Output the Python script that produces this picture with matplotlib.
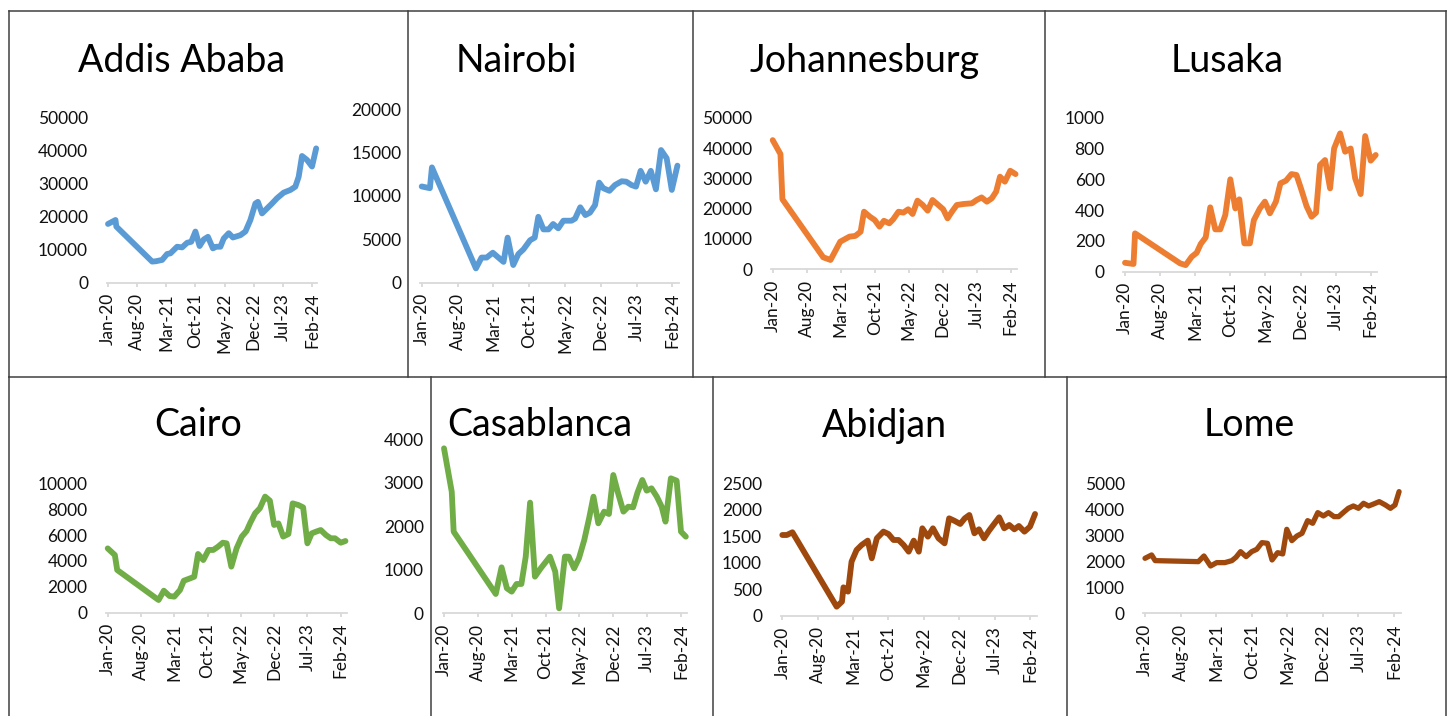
import numpy as np
import matplotlib
matplotlib.use("Agg")
import matplotlib.pyplot as plt
from matplotlib.lines import Line2D

plt.rcParams['font.family'] = ['Lato', 'DejaVu Sans']

# x axis: months since Jan-20
tick_pos = [0, 7, 14, 21, 28, 35, 42, 49]
tick_labels = ['Jan-20', 'Aug-20', 'Mar-21', 'Oct-21', 'May-22', 'Dec-22', 'Jul-23', 'Feb-24']

addis_t = [0, 1.8, 2, 10.6, 11.5, 13, 14.2, 15, 16.6, 17.8, 19, 20, 21, 22, 23, 24, 25.2, 26, 27, 27.8,
           29, 30, 31.8, 33, 34.2, 35.4, 36, 37, 38.2, 39.4, 40.6, 42.2, 43.8, 45, 45.8, 46.6, 47.8, 49, 50]
addis_v = [17800, 19000, 17000, 6400, 6500, 6900, 8700, 8900, 10900, 10700, 12100, 12400, 15500, 11100,
           13100, 13900, 10400, 10900, 10900, 13400, 15000, 13700, 14400, 15500, 19000, 24000, 24500, 21000,
           22500, 24000, 25600, 27300, 28100, 29100, 32100, 38400, 37200, 35200, 40700]

nairobi_t = [0, 1.6, 2, 10.6, 11.7, 12.7, 13.9, 15, 16, 16.8, 17.9, 18.9, 19.9, 21.2, 22.1, 22.8, 23.8, 24.8,
             25.7, 26.7, 27.7, 29.3, 30, 31, 32, 32.9, 33.9, 34.7, 35.5, 36.7, 37.8, 39.1, 40, 41, 41.9, 42.8,
             43.8, 44.8, 45.8, 46.8, 47.9, 48.9, 50]
nairobi_v = [11100, 10900, 13300, 1650, 2900, 2900, 3460, 2900, 2400, 5200, 2040, 3300, 3850, 4900, 5200, 7600,
             6150, 6150, 6770, 6270, 7150, 7150, 7400, 8700, 7800, 8080, 8960, 11540, 10900, 10600, 11270,
             11700, 11650, 11270, 11080, 12900, 11650, 12900, 10770, 15300, 14350, 10700, 13500]

joburg_t = [0, 1.6, 2, 10.4, 11.9, 13.9, 15.8, 17, 18.1, 18.8, 20, 21, 22, 22.9, 24, 24.8, 25.9, 26.9, 27.9,
            28.8, 29.8, 30.9, 31.9, 32.9, 34.1, 35.1, 36, 36.9, 37.9, 39.3, 41, 42, 43, 44.1, 45.1, 46, 46.8,
            47.8, 48.9, 50]
joburg_v = [42600, 38000, 23100, 3960, 3080, 9100, 10770, 11000, 12400, 19000, 17360, 16260, 14070, 16000,
            15160, 16480, 19000, 18700, 19800, 18240, 22640, 21200, 19340, 22850, 21200, 19800, 16800, 19000,
            21200, 21540, 21760, 22860, 23700, 22300, 23400, 25600, 30550, 28900, 32500, 31400]

lusaka_t = [0, 1.7, 2, 11, 12.1, 13.3, 14.3, 15.1, 16.1, 17, 18, 19, 20, 21, 22, 22.8, 23.8, 24.9, 25.7, 26.9,
            27.9, 28.9, 30.1, 31, 32.1, 33.2, 34.2, 35.2, 36.2, 37.2, 38.1, 38.9, 39.9, 40.9, 41.7, 42.9, 43.9,
            45, 45.9, 47, 47.9, 49, 50]
lusaka_v = [58, 50, 249, 54, 43, 97, 123, 180, 223, 418, 275, 275, 368, 600, 411, 470, 184, 184, 335, 411, 455,
            379, 455, 574, 591, 634, 628, 530, 426, 357, 383, 693, 725, 541, 800, 898, 779, 800, 606, 504, 881,
            721, 758]

cairo_t = [0, 1.5, 2, 10.7, 11.8, 13, 14, 15.2, 16, 17.3, 18.2, 19, 20.1, 21.2, 22.2, 23.2, 24.2, 25, 26, 27.1,
           28.2, 29.2, 30, 31, 32, 33.1, 34.1, 35, 35.9, 36.9, 38, 38.9, 40.1, 41.1, 42, 42.9, 43.8, 44.8, 45.9,
           46.9, 47.8, 49, 50]
cairo_v = [4970, 4460, 3300, 980, 1700, 1290, 1240, 1750, 2470, 2650, 2780, 4540, 4070, 4850, 4850, 5100, 5410,
           5360, 3560, 4970, 5880, 6310, 6960, 7680, 8070, 8970, 8660, 6780, 6900, 5880, 6080, 8450, 8320, 8140,
           5360, 6130, 6260, 6390, 6000, 5750, 5750, 5410, 5540]

casa_t = [0, 1.6, 2, 10.7, 11.9, 13, 14, 15, 16, 16.9, 17.8, 18.8, 20, 21.9, 23, 23.8, 25, 25.8, 26.9, 27.9,
          29, 30, 30.9, 31.9, 33.1, 34.1, 35, 36, 37.1, 38.1, 39.1, 40, 41, 41.9, 42.9, 44, 45, 45.8, 46.9,
          48.1, 49, 50]
casa_v = [3786, 2790, 1874, 444, 1055, 574, 497, 673, 673, 1300, 2540, 841, 1032, 1300, 956, 115, 1300, 1300,
          1032, 1262, 1682, 2180, 2677, 2065, 2333, 2279, 3174, 2753, 2333, 2447, 2432, 2769, 3059, 2815,
          2868, 2677, 2447, 2103, 3097, 3044, 1874, 1759]

abidjan_t = [0, 0.9, 2, 10.75, 11.8, 12.1, 13, 13.7, 14.7, 15.7, 16.9, 17.7, 18.7, 20, 21, 22, 23, 24, 25, 26,
             27, 27.7, 28.8, 29.8, 30.9, 32.1, 33, 34, 35.2, 36.1, 37, 38, 38.9, 39.9, 40.9, 41.9, 42.9, 43.9,
             44.9, 45.9, 46.8, 47.9, 49, 50]
abidjan_v = [1526, 1526, 1577, 176, 270, 540, 459, 1024, 1244, 1338, 1420, 1087, 1464, 1590, 1545, 1432, 1432,
             1338, 1212, 1420, 1212, 1652, 1495, 1652, 1464, 1369, 1840, 1796, 1734, 1840, 1903, 1558, 1633,
             1464, 1608, 1734, 1859, 1652, 1715, 1633, 1696, 1589, 1683, 1922]

lome_t = [0, 1.3, 2, 10.5, 11.6, 12.9, 14.1, 15.7, 17.1, 17.9, 18.8, 19.9, 21, 22, 23, 24.1, 25, 26.1, 27.1,
          27.9, 28.9, 29.9, 30.9, 32, 33, 34, 35.1, 36.1, 37.2, 38.1, 39, 40, 41, 42, 43, 44, 45, 46.1, 47.3,
          48.3, 49.2, 50]
lome_v = [2115, 2244, 2026, 1987, 2205, 1820, 1949, 1949, 2026, 2154, 2372, 2180, 2372, 2462, 2718, 2692, 2051,
          2333, 2282, 3230, 2795, 2974, 3077, 3564, 3462, 3872, 3744, 3872, 3718, 3718, 3872, 4038, 4128, 4038,
          4231, 4128, 4205, 4295, 4167, 4038, 4167, 4680]

BLUE, ORANGE, GREEN, BROWN = '#5B9BD5', '#ED7D31', '#70AD47', '#9E480E'

W, H = 1449, 716
fig = plt.figure(figsize=(W / 100, H / 100), dpi=100)
fig.patch.set_facecolor('white')


def panel(name, t, v, color, x0, x49, y0, ytop, ymax, ystep, tx, ty, lw=4.2):
    # x0/x49: pixel of Jan-20 / Feb-24, y0/ytop: pixel of 0 / ymax
    ppm = (x49 - x0) / 49
    left = x0 - 0.3 * ppm
    right = x0 + 50.3 * ppm
    ax = fig.add_axes([left / W, 1 - y0 / H, (right - left) / W, (y0 - ytop) / H])
    ax.set_facecolor('none')
    ax.plot(t, v, color=color, lw=lw, solid_joinstyle='round', solid_capstyle='round', clip_on=False)
    ax.set_xlim(-0.3, 50.3)
    ax.set_ylim(0, ymax)
    ax.set_xticks(tick_pos)
    ax.set_xticklabels(tick_labels, rotation=90, fontsize=12.5, color='#111111')
    ax.set_yticks(np.arange(0, ymax + 1, ystep))
    ax.tick_params(axis='y', length=0, pad=13.5, labelsize=12.5, labelcolor='#111111')
    ax.tick_params(axis='x', length=3, width=1.3, color='#D9D9D9', pad=4.5)
    for s in ['top', 'right', 'left']:
        ax.spines[s].set_visible(False)
    ax.spines['bottom'].set_color('#D9D9D9')
    ax.spines['bottom'].set_linewidth(1.3)
    fig.text(tx / W, 1 - ty / H, name, ha='center', va='baseline', fontsize=27, color='black')
    return ax


panel('Addis Ababa', addis_t, addis_v, BLUE, 108, 312, 282.7, 117.7, 50000, 10000, 182, 72)
panel('Nairobi', nairobi_t, nairobi_v, BLUE, 421.7, 672.3, 282.7, 109.3, 20000, 5000, 516, 72)
panel('Johannesburg', joburg_t, joburg_v, ORANGE, 772.7, 1010.7, 269.3, 117.7, 50000, 10000, 865, 72)
panel('Lusaka', lusaka_t, lusaka_v, ORANGE, 1125, 1370.7, 271.7, 117.7, 1000, 200, 1227, 72)
panel('Cairo', cairo_t, cairo_v, GREEN, 107.7, 340.7, 612.7, 483.3, 10000, 2000, 198, 436.5)
panel('Casablanca', casa_t, casa_v, GREEN, 444, 681, 613.3, 439, 4000, 1000, 540, 436.5)
panel('Abidjan', abidjan_t, abidjan_v, BROWN, 782.3, 1030, 616, 483.3, 2500, 500, 884, 436.5)
panel('Lome', lome_t, lome_v, BROWN, 1145, 1394, 613.3, 483.3, 5000, 1000, 1249, 436.5, lw=3.8)


def border(xs, ys):
    fig.add_artist(Line2D([x / W for x in xs], [1 - y / H for y in ys], color='#404040', lw=1.1))


border([9, 1446], [11, 11])
border([9, 1446], [376.5, 376.5])
for x in [9, 408, 693, 1045, 1446]:
    border([x, x], [11, 376.5])
for x in [9, 431, 713, 1067, 1446]:
    border([x, x], [376.5, 716])

fig.savefig('out.png', dpi=100)
